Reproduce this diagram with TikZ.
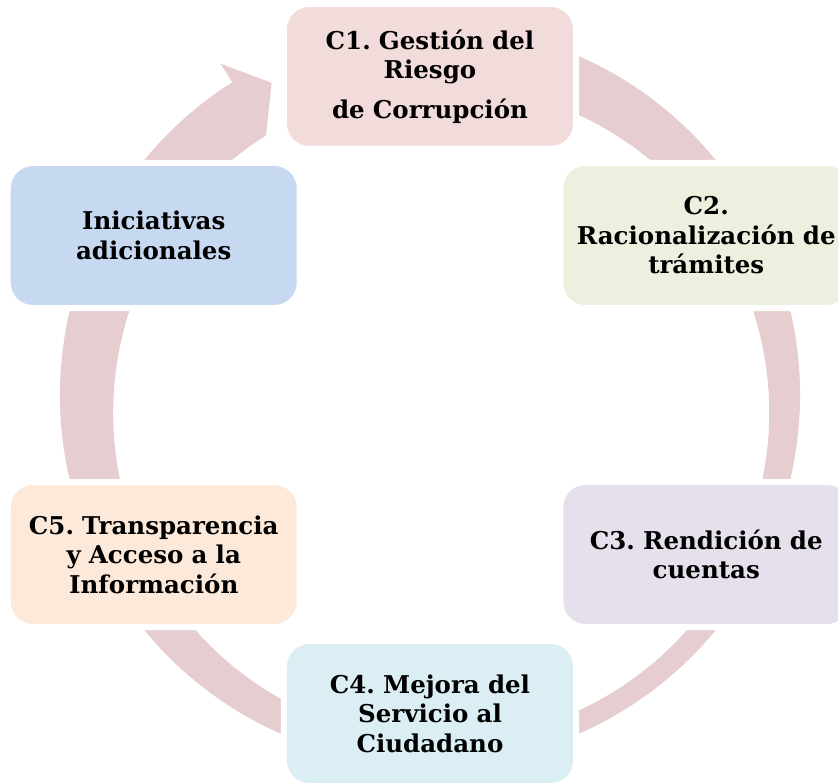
\documentclass[tikz,border=0pt]{standalone}
\usepackage{fontspec}
\setmainfont{DejaVu Serif}
\definecolor{ringred}{RGB}{230,205,207}
\definecolor{cone}{RGB}{242,220,219}
\definecolor{ctwo}{RGB}{235,241,222}
\definecolor{cthree}{RGB}{229,224,236}
\definecolor{cfour}{RGB}{219,238,244}
\definecolor{cfive}{RGB}{253,233,217}
\definecolor{cini}{RGB}{198,217,241}
\begin{document}
\frenchspacing
\begin{tikzpicture}
      [
      x=1pt,y=1pt,
      stage/.style={rectangle,rounded corners=25pt,draw=white,line width=6pt,inner xsep=2pt,inner ysep=0pt,
        minimum width=292pt,minimum height=145pt,text width=284pt,align=center,
        font=\fontsize{24.5}{29.5}\selectfont\bfseries},
      ring/.style={fill=ringred}
      ]
      \useasboundingbox (-430,-387) rectangle (408,395);
      % the cycle band with its head at the top left
      \fill [ring] (80:370) arc[start angle=80, end angle=-237.7, radius=370]
        -- (-237.7:392) -- (-243.1:350) -- (-237.7:307)
        arc[start angle=-237.7, end angle=80, radius=328] -- cycle;
      \node (c1) at (90:318.5) [stage,fill=cone] {C1. Gestión del\\ Riesgo\\[10pt] de Corrupción};
      \node (c2) at (30:319) [stage,fill=ctwo] {C2.\\ Racionalización de\\ trámites};
      \node (c3) at (-30:319) [stage,fill=cthree] {C3. Rendición de\\ cuentas};
      \node (c4) at (-90:318.5) [stage,fill=cfour] {C4. Mejora del\\ Servicio al\\ Ciudadano};
      \node (c5) at (-150:319) [stage,fill=cfive] {C5. Transparencia\\ y Acceso a la\\ Información};
      \node (ini) at (150:319) [stage,fill=cini] {Iniciativas\\ adicionales};
    \end{tikzpicture}
\end{document}
